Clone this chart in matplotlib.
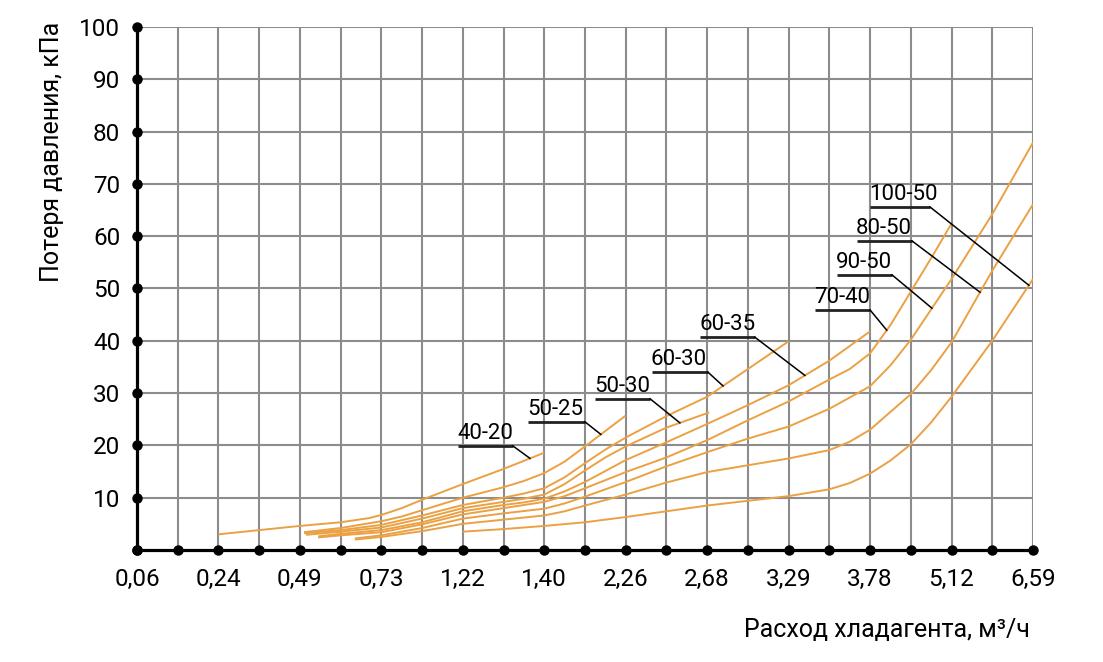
import numpy as np
import matplotlib.pyplot as plt

plt.rcParams['font.family'] = ['Roboto', 'DejaVu Sans']

# подписи оси X (расход, м3/ч) – каждая вторая линия сетки
x_labels = ["0,06", "0,24", "0,49", "0,73", "1,22", "1,40",
            "2,26", "2,68", "3,29", "3,78", "5,12", "6,59"]
y_ticks = [10, 20, 30, 40, 50, 60, 70, 80, 90, 100]

# кривые: x - номер линии сетки, y - потеря давления, кПа
x_40_20 = [2, 3, 4, 5, 5.7, 6, 6.5, 7, 8, 9, 10]
y_40_20 = [3.0, 3.8, 4.6, 5.3, 6.1, 6.7, 8.0, 9.6, 12.6, 15.5, 18.6]

x_50_25 = [4.1, 5, 6, 6.5, 7, 8, 9, 9.5, 10, 10.5, 11, 12]
y_50_25 = [3.4, 4.2, 5.5, 6.4, 7.6, 10.0, 12.0, 13.2, 14.7, 16.9, 19.8, 25.7]

x_50_30 = [4.15, 5, 6, 7, 8, 9, 9.5, 10, 10.5, 11, 11.5, 12, 13, 14.05]
y_50_30 = [2.9, 3.5, 4.3, 6.0, 8.0, 9.2, 9.8, 10.6, 12.6, 15.2, 17.7, 19.8, 23.4, 26.3]

x_60_30 = [4.1, 5, 6, 7, 8, 9, 9.5, 10, 10.5, 11, 11.5, 12, 13, 14, 15, 16]
y_60_30 = [3.2, 3.8, 4.8, 6.6, 8.6, 10.0, 10.8, 11.8, 13.9, 16.6, 19.2, 21.5, 25.6, 29.3,
           34.6, 39.9]

x_60_35 = [4.45, 5, 6, 7, 8, 9, 9.5, 10, 10.5, 11, 12, 13, 14, 15, 16, 17, 18]
y_60_35 = [2.6, 3.1, 3.8, 5.3, 7.4, 8.6, 9.1, 9.8, 11.2, 13.0, 17.2, 20.6, 24.1, 27.7,
           31.5, 36.2, 41.8]

x_70_40 = [4.45, 5, 6, 7, 8, 9, 10, 10.5, 11, 12, 13, 14, 15, 16, 17, 17.5, 18, 18.5, 19,
           19.5, 20]
y_70_40 = [2.4, 2.8, 3.4, 4.9, 6.8, 8.0, 9.2, 10.3, 11.8, 14.9, 17.7, 21.0, 24.8, 28.4,
           32.6, 34.6, 37.6, 43.0, 49.4, 55.8, 62.4]

x_90_50 = [5.35, 6, 7, 8, 9, 10, 10.5, 11, 12, 13, 14, 15, 16, 17, 18, 18.5, 19, 20, 21, 22]
y_90_50 = [2.2, 2.8, 4.2, 6.0, 7.0, 7.9, 8.9, 10.2, 13.0, 16.0, 18.7, 21.3, 23.6, 27.0,
           31.3, 35.3, 40.2, 51.8, 64.2, 77.9]

x_80_50 = [5.35, 6, 7, 8, 9, 10, 10.5, 11, 12, 13, 14, 15, 16, 17, 17.5, 18, 19, 19.5, 20,
           21, 22]
y_80_50 = [2.0, 2.5, 3.6, 5.0, 5.8, 6.6, 7.4, 8.5, 10.6, 12.9, 14.9, 16.2, 17.5, 19.1,
           20.7, 23.0, 29.8, 34.4, 39.7, 53.4, 66.1]

x_100_50 = [8, 9, 10, 11, 12, 13, 14, 15, 16, 17, 17.5, 18, 18.5, 19, 19.5, 20, 21, 22]
y_100_50 = [3.5, 4.0, 4.6, 5.3, 6.3, 7.4, 8.5, 9.4, 10.3, 11.6, 12.8, 14.6, 17.1, 20.2,
           24.4, 29.3, 40.0, 51.8]

curve_names = ["40-20", "50-25", "50-30", "60-30", "60-35", "70-40", "90-50", "80-50", "100-50"]
curves_x = [x_40_20, x_50_25, x_50_30, x_60_30, x_60_35, x_70_40, x_90_50, x_80_50, x_100_50]
curves_y = [y_40_20, y_50_25, y_50_30, y_60_30, y_60_35, y_70_40, y_90_50, y_80_50, y_100_50]

# где стоит подпись: (x начала подчёркивания, длина, высота, x конца выноски)
label_pos = {
    "40-20": (7.88, 1.35, 19.9, 9.65),
    "50-25": (9.6, 1.4, 24.5, 11.39),
    "50-30": (11.24, 1.36, 28.9, 13.33),
    "60-30": (12.64, 1.38, 34.0, 14.39),
    "60-35": (13.82, 1.35, 40.7, 16.4),
    "70-40": (16.65, 1.35, 45.9, 18.41),
    "90-50": (17.19, 1.35, 52.6, 19.52),
    "80-50": (17.68, 1.35, 59.1, 20.7),
    "100-50": (18.0, 1.47, 65.6, 21.9),
}

orange = "#eba143"

fig = plt.figure(figsize=(11.03, 6.62), dpi=100)
ax = fig.add_axes([0.1242, 0.1692, 0.8123, 0.79])

ax.set_xlim(0, 22)
ax.set_ylim(0, 100)

ax.set_xticks(range(23))
ax.set_xticklabels([x_labels[i // 2] if i % 2 == 0 else "" for i in range(23)])
ax.set_yticks(y_ticks)
ax.set_yticklabels([str(v) for v in y_ticks])
ax.tick_params(length=0, labelsize=17.5)
ax.tick_params(axis="x", pad=13)
ax.tick_params(axis="y", pad=12)

ax.grid(True, color="#8c8c8c", linewidth=1.5)
ax.set_axisbelow(True)

for side in ["top", "right"]:
    ax.spines[side].set_visible(False)
for side in ["left", "bottom"]:
    ax.spines[side].set_linewidth(2.3)
    ax.spines[side].set_color("black")
    ax.spines[side].set_zorder(4)

for cx, cy in zip(curves_x, curves_y):
    ax.plot(cx, cy, color=orange, linewidth=1.4, zorder=3, solid_capstyle="butt",
            solid_joinstyle="round")

# подписи с подчёркиванием и выноской
for name, cx, cy in zip(curve_names, curves_x, curves_y):
    x0, w, yl, xe = label_pos[name]
    ye = np.interp(xe, cx, cy)
    ax.text(x0 - 0.02, yl + 0.35, name, fontsize=16, ha="left", va="bottom", zorder=5)
    ax.plot([x0, x0 + w], [yl, yl], color="#222222", linewidth=2.0, zorder=5,
            solid_capstyle="butt")
    ax.plot([x0 + w, xe], [yl, ye], color="black", linewidth=1.1, zorder=5)

# точки на осях
ax.plot(np.zeros(11), np.arange(0, 101, 10), "o", color="black", markersize=6.5,
        clip_on=False, zorder=6)
ax.plot(np.arange(23), np.zeros(23), "o", color="black", markersize=6.5,
        clip_on=False, zorder=6)

fig.text(0.047, 0.77, "Потеря давления, кПа", rotation=90, fontsize=18,
         ha="center", va="center")
fig.text(0.934, 0.048, "Расход хладагента, м³/ч", fontsize=18, ha="right", va="center")

fig.savefig("out.png", dpi=100)
